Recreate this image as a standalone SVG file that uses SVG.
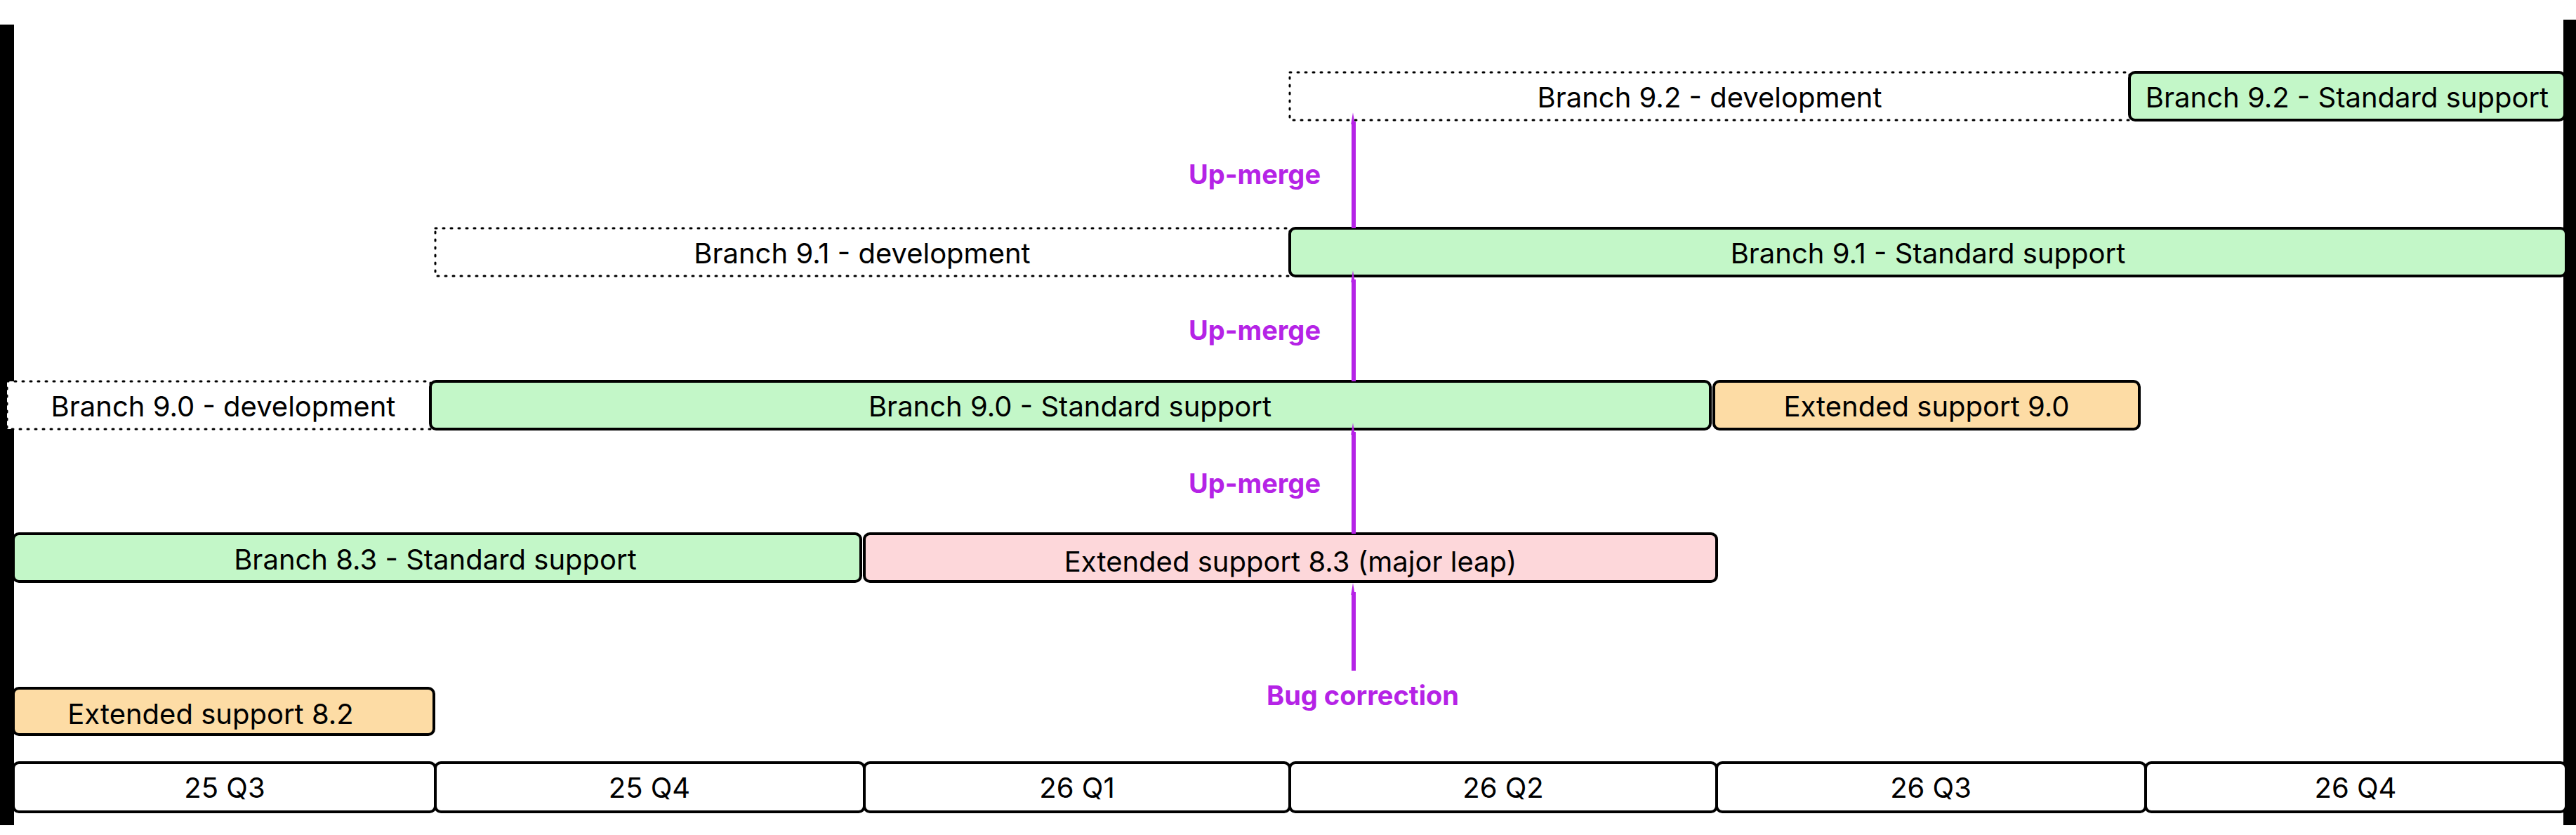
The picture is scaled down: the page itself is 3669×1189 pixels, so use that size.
<svg xmlns="http://www.w3.org/2000/svg" width="3669" height="1189" viewBox="0 0 3669 1189">
<defs>
<style>
.b{stroke:#000;stroke-width:4}
.g{fill:#c3f7c8}.o{fill:#fddca5}.p{fill:#fdd7da}.w{fill:#fff}
.d{fill:#fff;stroke:#000;stroke-width:3;stroke-dasharray:2 9;stroke-linecap:round}
text{font-family:Inter,"Liberation Sans",sans-serif;font-size:40px;fill:#000;text-anchor:middle;dominant-baseline:central}
.l{fill:#b523e6;font-weight:bold;font-size:38px}
.a{stroke:#b523e6;stroke-width:6;fill:none}
</style>
<marker id="ah" viewBox="0 0 10 10" refX="10" refY="5" markerWidth="4" markerHeight="7" markerUnits="userSpaceOnUse" orient="auto" overflow="visible">
<path d="M0,0 L10,5 L0,10 z" fill="#b523e6" transform="scale(4.2,1.4) translate(0,-3.2)"/>
</marker>
</defs>
<rect width="3669" height="1189" fill="#fff"/>
<g id="axis">
<rect x="0" y="35" width="20" height="1140" fill="#000"/>
<rect x="3651" y="28" width="18" height="1147" fill="#000"/>
</g>
<g id="quarters">
<rect class="b w" x="19" y="1086" width="601" height="70" rx="8"/><text x="320" y="1121">25 Q3</text>
<rect class="b w" x="620" y="1086" width="611" height="70" rx="8"/><text x="925" y="1121">25 Q4</text>
<rect class="b w" x="1231" y="1086" width="606" height="70" rx="8"/><text x="1534" y="1121">26 Q1</text>
<rect class="b w" x="1837" y="1086" width="608" height="70" rx="8"/><text x="2141" y="1121">26 Q2</text>
<rect class="b w" x="2445" y="1086" width="611" height="70" rx="8"/><text x="2750" y="1121">26 Q3</text>
<rect class="b w" x="3056" y="1086" width="599" height="70" rx="8"/><text x="3355" y="1121">26 Q4</text>
</g>
<g id="b92dev"><rect class="d" x="1837" y="103" width="1196" height="68"/><text x="2435" y="138">Branch 9.2 - development</text></g>
<g id="b92std"><rect class="b g" x="3033" y="103" width="620" height="68" rx="8"/><text x="3343" y="138">Branch 9.2 - Standard support</text></g>
<g id="b91dev"><rect class="d" x="620" y="325" width="1217" height="68"/><text x="1228" y="360">Branch 9.1 - development</text></g>
<g id="b91std"><rect class="b g" x="1837" y="325" width="1818" height="68" rx="8"/><text x="2746" y="360">Branch 9.1 - Standard support</text></g>
<g id="b90dev"><rect class="d" x="10" y="543" width="603" height="68"/><text x="318" y="578">Branch 9.0 - development</text></g>
<g id="b90std"><rect class="b g" x="613" y="543" width="1823" height="68" rx="8"/><text x="1524" y="578">Branch 9.0 - Standard support</text></g>
<g id="ext90"><rect class="b o" x="2441" y="543" width="606" height="68" rx="8"/><text x="2744" y="578">Extended support 9.0</text></g>
<g id="b83std"><rect class="b g" x="19" y="760" width="1207" height="68" rx="8"/><text x="620" y="796">Branch 8.3 - Standard support</text></g>
<g id="ext83"><rect class="b p" x="1231" y="760" width="1214" height="68" rx="8"/><text x="1838" y="799">Extended support 8.3 (major leap)</text></g>
<g id="ext82"><rect class="b o" x="19" y="980" width="599" height="66" rx="8"/><text x="300" y="1016">Extended support 8.2</text></g>
<g id="connectors">
<line class="a" x1="1928" y1="955" x2="1928" y2="843" marker-end="url(#ah)"/>
<line class="a" x1="1928" y1="760" x2="1928" y2="615" marker-end="url(#ah)"/>
<line class="a" x1="1928" y1="543" x2="1928" y2="398" marker-end="url(#ah)"/>
<line class="a" x1="1928" y1="325" x2="1928" y2="173" marker-end="url(#ah)"/>
<text class="l" x="1787" y="688">Up-merge</text>
<text class="l" x="1787" y="470">Up-merge</text>
<text class="l" x="1787" y="248">Up-merge</text>
<text class="l" x="1941" y="990">Bug correction</text>
</g>
</svg>
